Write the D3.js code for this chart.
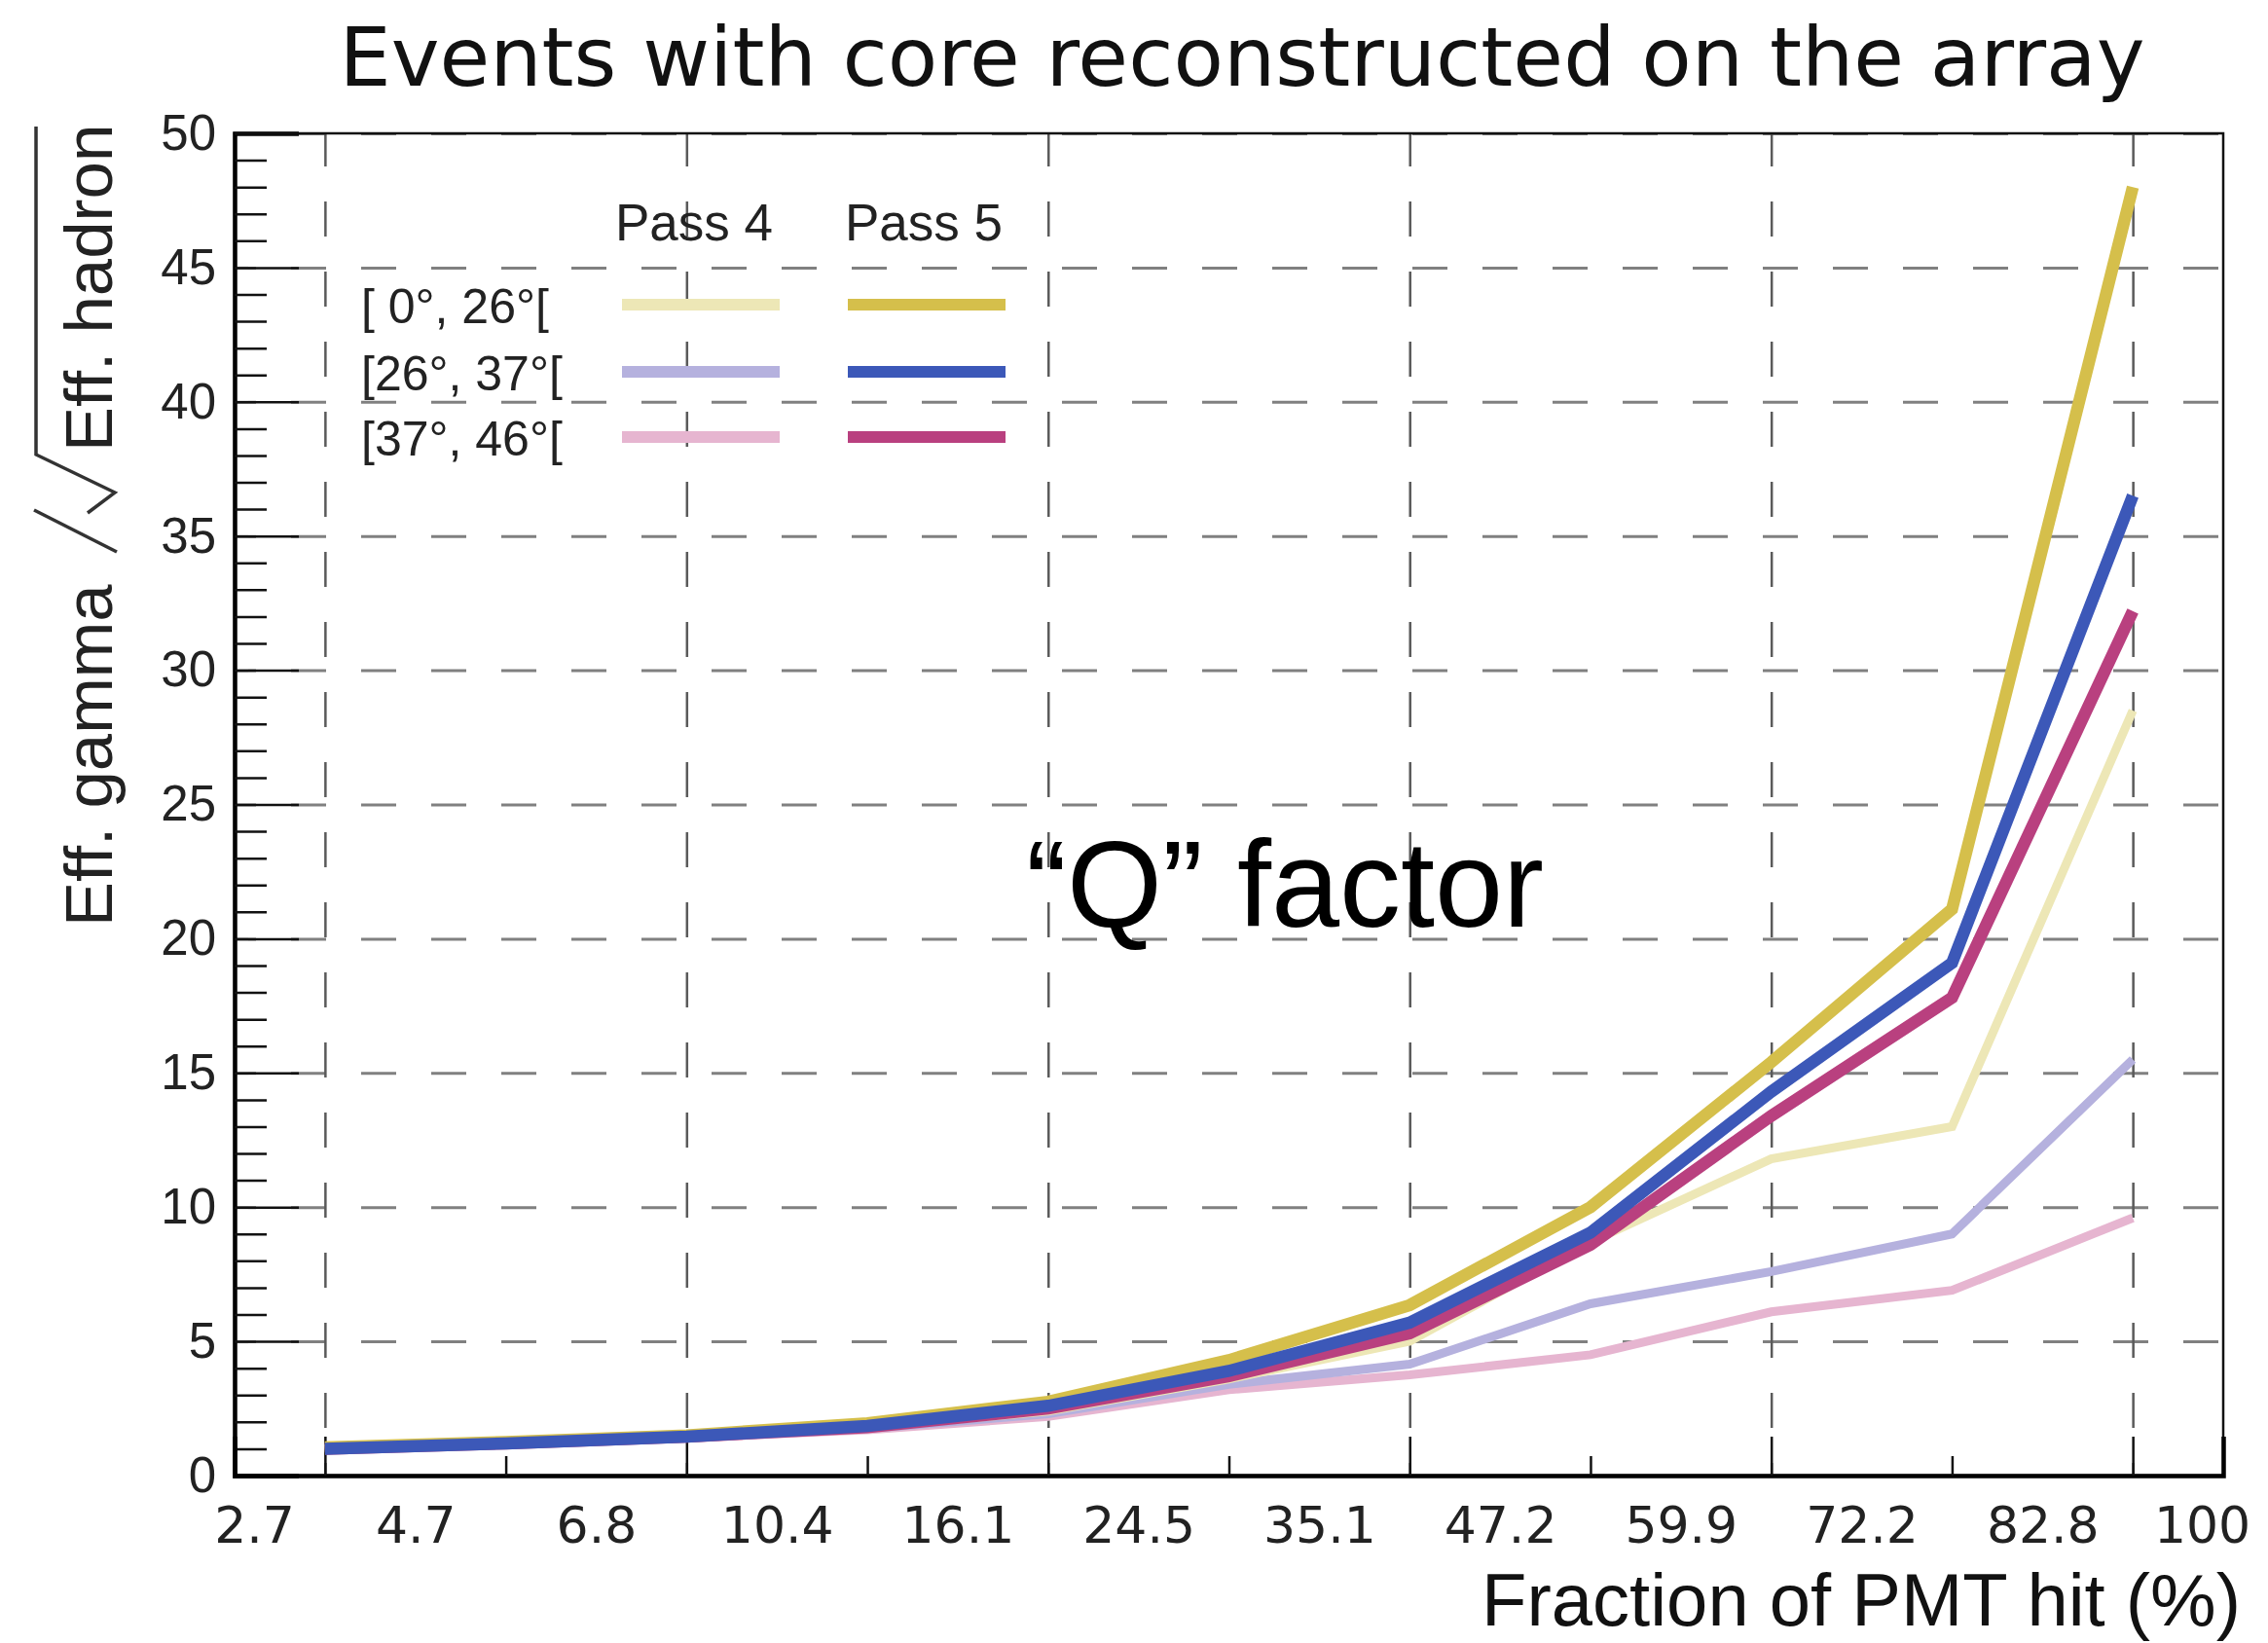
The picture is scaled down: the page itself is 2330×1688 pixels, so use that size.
<!DOCTYPE html>
<html>
<head>
<meta charset="utf-8">
<script src="https://cdn.jsdelivr.net/npm/d3@7"></script>
<style>
  html, body { margin: 0; padding: 0; background: #fff; }
  svg { display: block; }
</style>
</head>
<body>
<svg id="chart" width="2330" height="1688"></svg>
<script>
// ---------------- DATA ----------------
const edgeLabels = ["2.7","4.7","6.8","10.4","16.1","24.5","35.1","47.2","59.9","72.2","82.8","100"];
const yTickValues = [0,5,10,15,20,25,30,35,40,45,50];

const zenithBins = ["[ 0°, 26°[", "[26°, 37°[", "[37°, 46°["];
const passNames = ["Pass 4", "Pass 5"];

// Pass 4
const p4_0_26  = [1.0, 1.2, 1.45, 1.8, 2.4, 3.6, 5.0, 8.7, 11.8, 13.0, 28.5];
const p4_26_37 = [1.0, 1.2, 1.4, 1.75, 2.3, 3.4, 4.15, 6.4, 7.6, 9.0, 15.5];
const p4_37_46 = [1.0, 1.15, 1.4, 1.7, 2.2, 3.2, 3.75, 4.5, 6.1, 6.9, 9.6];
// Pass 5
const p5_0_26  = [1.05, 1.25, 1.5, 1.95, 2.75, 4.3, 6.35, 10.0, 15.4, 21.1, 48.0];
const p5_26_37 = [1.0, 1.2, 1.45, 1.85, 2.6, 3.9, 5.7, 9.05, 14.3, 19.1, 36.5];
const p5_37_46 = [1.0, 1.2, 1.45, 1.8, 2.5, 3.7, 5.3, 8.6, 13.4, 17.8, 32.2];

const colorsP4 = ["#ede7b6", "#b5b1de", "#e6b5d0"];
const colorsP5 = ["#d5bf4b", "#3c58b8", "#b9407f"];

// ---------------- LAYOUT ----------------
const svg = d3.select("#chart");
const L = 241, R = 2284, T = 137, B = 1516;
const nBins = edgeLabels.length - 1;

const x = d3.scaleLinear().domain([0, nBins]).range([L, R]);
const y = d3.scaleLinear().domain([0, 50]).range([B, T]);

const sansFont = "'Liberation Sans', Arial, Helvetica, sans-serif";
const dejaFont = "'DejaVu Sans', Verdana, sans-serif";

// ---------------- GRID ----------------
const majorCenters = d3.range(0, nBins, 2).map(i => i + 0.5);
const minorCenters = d3.range(1, nBins, 2).map(i => i + 0.5);

// horizontal dashed grid
const hGrid = svg.append("g")
  .attr("transform", `translate(${L},0)`)
  .call(d3.axisLeft(y).tickValues(yTickValues.filter(v => v > 0)).tickSize(-(R - L)).tickFormat(""));
hGrid.select(".domain").remove();
hGrid.selectAll("line")
  .attr("stroke", "#808080").attr("stroke-width", 3)
  .attr("stroke-dasharray", "36,36").attr("stroke-dashoffset", 14);

// vertical dashed grid
const vGrid = svg.append("g")
  .attr("transform", `translate(0,${B})`)
  .call(d3.axisBottom(x).tickValues(majorCenters).tickSize(-(B - T)).tickFormat(""));
vGrid.select(".domain").remove();
vGrid.selectAll("line")
  .attr("stroke", "#5a5a5a").attr("stroke-width", 2.5)
  .attr("stroke-dasharray", "36,36").attr("stroke-dashoffset", 23);

// ---------------- FRAME ----------------
svg.append("rect").attr("x", L).attr("y", T).attr("width", R - L).attr("height", B - T)
  .attr("fill", "none").attr("stroke", "#111").attr("stroke-width", 2.5);

// ---------------- AXES ----------------
// Y major ticks + labels
const yMaj = svg.append("g").attr("transform", `translate(${L},0)`)
  .call(d3.axisLeft(y).tickValues(yTickValues).tickSize(-66).tickPadding(19));
yMaj.select(".domain").attr("stroke", "#000").attr("stroke-width", 4.5);
yMaj.selectAll(".tick line").attr("stroke", "#111").attr("stroke-width", 2.5);
yMaj.selectAll(".tick text").attr("font-family", sansFont).attr("font-size", 51).attr("fill", "#222");

// Y minor ticks
const yMinorVals = d3.range(1, 50).filter(v => v % 5 !== 0);
const yMin = svg.append("g").attr("transform", `translate(${L},0)`)
  .call(d3.axisLeft(y).tickValues(yMinorVals).tickSize(-33).tickFormat(""));
yMin.select(".domain").remove();
yMin.selectAll(".tick line").attr("stroke", "#111").attr("stroke-width", 2.5);

// X major / minor ticks at bin centres
const xMaj = svg.append("g").attr("transform", `translate(0,${B})`)
  .call(d3.axisBottom(x).tickValues(majorCenters).tickSize(-40).tickFormat(""));
xMaj.select(".domain").attr("stroke", "#000").attr("stroke-width", 4.5);
xMaj.selectAll(".tick line").attr("stroke", "#111").attr("stroke-width", 2.5);
const xMin = svg.append("g").attr("transform", `translate(0,${B})`)
  .call(d3.axisBottom(x).tickValues(minorCenters).tickSize(-20).tickFormat(""));
xMin.select(".domain").remove();
xMin.selectAll(".tick line").attr("stroke", "#111").attr("stroke-width", 2.5);

// X labels at bin edges
const xLab = svg.append("g").attr("transform", `translate(0,${B})`)
  .call(d3.axisBottom(x).tickValues(d3.range(0, nBins + 1)).tickSize(0).tickPadding(32)
        .tickFormat(i => edgeLabels[i]));
xLab.select(".domain").remove();
xLab.selectAll(".tick text")
  .attr("font-family", dejaFont).attr("font-size", 52).attr("fill", "#222")
  .attr("dx", i => i === 0 ? 20 : (i === nBins ? -22 : 0));

// ---------------- SERIES ----------------
const line = d3.line().x((d, i) => x(i + 0.5)).y(d => y(d));
const p4Series = [p4_0_26, p4_26_37, p4_37_46];
const p5Series = [p5_0_26, p5_26_37, p5_37_46];

const gLines = svg.append("g");
[2, 1, 0].forEach(k => {
  gLines.append("path").datum(p4Series[k]).attr("d", line)
    .attr("fill", "none").attr("stroke", colorsP4[k]).attr("stroke-width", 9);
});
[2, 0, 1].forEach(k => {
  gLines.append("path").datum(p5Series[k]).attr("d", line)
    .attr("fill", "none").attr("stroke", colorsP5[k]).attr("stroke-width", 12.5);
});

// ---------------- LEGEND ----------------
const leg = svg.append("g");
const passX = [713, 949];
const rowY = [313, 382, 449];
passNames.forEach((p, j) => {
  leg.append("text").attr("x", passX[j]).attr("y", 247).attr("text-anchor", "middle")
    .attr("font-family", sansFont).attr("font-size", 53).attr("fill", "#222").text(p);
});
zenithBins.forEach((z, k) => {
  leg.append("text").attr("x", 371).attr("y", rowY[k] + 19)
    .attr("font-family", sansFont).attr("font-size", 50).attr("fill", "#222")
    .attr("xml:space", "preserve").style("white-space", "pre").text(z);
  leg.append("line").attr("x1", passX[0] - 74).attr("x2", passX[0] + 88)
    .attr("y1", rowY[k]).attr("y2", rowY[k])
    .attr("stroke", colorsP4[k]).attr("stroke-width", 12);
  leg.append("line").attr("x1", passX[1] - 78).attr("x2", passX[1] + 84)
    .attr("y1", rowY[k]).attr("y2", rowY[k])
    .attr("stroke", colorsP5[k]).attr("stroke-width", 12);
});

// ---------------- TEXTS ----------------
svg.append("text").attr("x", 1276).attr("y", 88).attr("text-anchor", "middle")
  .attr("font-family", dejaFont).attr("font-size", 84).attr("fill", "#111")
  .attr("textLength", 1855).attr("lengthAdjust", "spacingAndGlyphs")
  .text("Events with core reconstructed on the array");

svg.append("text").attr("x", 2302).attr("y", 1670).attr("text-anchor", "end")
  .attr("font-family", sansFont).attr("font-size", 76).attr("fill", "#111")
  .text("Fraction of PMT hit (%)");

svg.append("text").attr("x", 1054).attr("y", 952)
  .attr("font-family", sansFont).attr("font-size", 126).attr("fill", "#000")
  .text("\u201CQ\u201D factor");

// Y title (rotated) with slash and radical sign
const yt = svg.append("g").attr("transform", "translate(115,952) rotate(-90)");
yt.append("text").attr("x", 0).attr("y", 0)
  .attr("font-family", sansFont).attr("font-size", 69).attr("fill", "#222")
  .text("Eff. gamma");
yt.append("text").attr("x", 488).attr("y", 0)
  .attr("font-family", sansFont).attr("font-size", 69).attr("fill", "#222")
  .text("Eff. hadron");
yt.append("path")
  .attr("d", "M385,5 L428,-80")
  .attr("fill", "none").attr("stroke", "#333").attr("stroke-width", 3.5);
yt.append("path")
  .attr("d", "M425,-25 L446,3 L485,-78 L822,-78")
  .attr("fill", "none").attr("stroke", "#333").attr("stroke-width", 3.5);
</script>
</body>
</html>
